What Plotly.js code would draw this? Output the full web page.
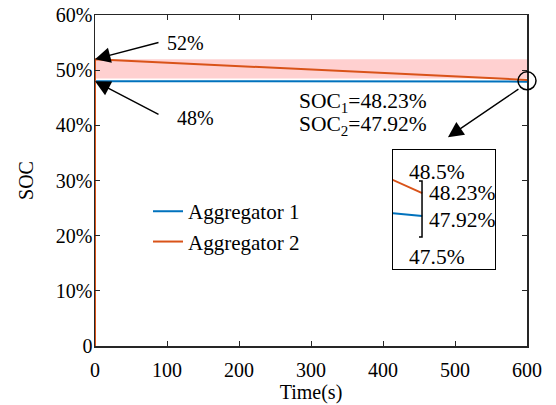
<!DOCTYPE html>
<html>
<head>
<meta charset="utf-8">
<script src="https://cdn.plot.ly/plotly-3.0.1.min.js"></script>
<style>
  html, body { margin: 0; padding: 0; background: #fff; }
  #chart { width: 556px; height: 405px; }
  #chart text { font-family: 'Liberation Serif', 'Times New Roman', serif !important; }
</style>
</head>
<body>
<div id="chart"></div>
<script>
// Time axis (s)
const timeAgg1 = [0, 570, 600];
const timeAgg2 = [0, 0, 600];
// State of charge (%) of each aggregator
const socAgg1 = [48.00, 47.96, 47.92];
const socAgg2 = [0, 52.00, 48.23];
// Initial SOC band between the two aggregators
const bandTime = [0, 600];
const bandUpper = [52, 52];
const bandLower = [48.5, 48.5];
// Axis ticks
const xTicks = [0, 100, 200, 300, 400, 500, 600];
const yTicks = [0, 10, 20, 30, 40, 50, 60];
const yTickText = ['0', '10%', '20%', '30%', '40%', '50%', '60%'];
// Zoom window range on the SOC axis
const zoomTicks = [48.5, 47.5];

const BLUE = '#0072BD';
const ORANGE = '#D95319';
const AXIS = '#262626';
const FONT = 'Liberation Serif';
const FS = 20;
const FS_NOTE = 21.5;

const start1 = socAgg1[0];
const start2 = socAgg2[1];
const end1 = socAgg1[socAgg1.length - 1];
const end2 = socAgg2[socAgg2.length - 1];

const traces = [
  { x: bandTime, y: bandLower, mode: 'lines', line: { width: 0 }, showlegend: false, hoverinfo: 'skip' },
  { x: bandTime, y: bandUpper, mode: 'lines', line: { width: 0 }, fill: 'tonexty',
    fillcolor: 'rgba(255,110,110,0.32)', showlegend: false, hoverinfo: 'skip' },
  { x: timeAgg1, y: socAgg1, mode: 'lines', name: 'Aggregator 1', line: { color: BLUE, width: 2 } },
  { x: timeAgg2, y: socAgg2, mode: 'lines', name: 'Aggregator 2', line: { color: ORANGE, width: 2 } },
  // zoomed view of the final values
  { x: timeAgg1, y: socAgg1, mode: 'lines', xaxis: 'x2', yaxis: 'y2', showlegend: false,
    line: { color: BLUE, width: 2 } },
  { x: timeAgg2, y: socAgg2, mode: 'lines', xaxis: 'x2', yaxis: 'y2', showlegend: false,
    line: { color: ORANGE, width: 2 } }
];

const axisCommon = {
  showgrid: false, zeroline: false, showline: true, linecolor: AXIS, linewidth: 1.5,
  mirror: 'ticks', ticks: 'inside', ticklen: 5, tickcolor: AXIS, tickwidth: 1,
  tickfont: { family: FONT, size: FS, color: '#000' }
};

const yEnd = (end1 + end2) / 2;
const arrowStyle = { showarrow: true, arrowhead: 2, arrowsize: 2.2, arrowwidth: 1.4,
  arrowcolor: '#000', axref: 'pixel', ayref: 'pixel', text: '' };
const txt = (t, x, y, xanchor, size) => ({ text: t, x, y, xref: 'paper', yref: 'paper',
  xanchor: xanchor || 'center', yanchor: 'middle', showarrow: false,
  font: { family: FONT, size: size || FS, color: '#000' } });

const layout = {
  width: 556, height: 405,
  margin: { l: 95, r: 29, t: 15, b: 59 },
  paper_bgcolor: '#fff', plot_bgcolor: '#fff',
  font: { family: FONT, size: FS, color: '#000' },
  xaxis: Object.assign({}, axisCommon, {
    range: [0, 600], tickvals: xTicks, ticklabelstandoff: 5,
    title: { text: 'Time(s)', font: { family: FONT, size: FS, color: '#000' }, standoff: 0 }
  }),
  yaxis: Object.assign({}, axisCommon, {
    range: [0, 60], tickvals: yTicks, ticktext: yTickText, ticklabelstandoff: -3,
    title: { text: 'SOC', font: { family: FONT, size: FS, color: '#000' }, standoff: 17 }
  }),
  xaxis2: { domain: [0.690, 0.926], anchor: 'y2', range: [572, 670], showgrid: false, zeroline: false,
    showline: true, mirror: true, linecolor: '#000', linewidth: 1, showticklabels: false, ticks: '' },
  yaxis2: { domain: [0.2326, 0.592], anchor: 'x2', range: [47.206, 48.81], showgrid: false, zeroline: false,
    showline: true, mirror: true, linecolor: '#000', linewidth: 1, showticklabels: false, ticks: '' },
  legend: {
    x: 0.1227, y: 0.468, xanchor: 'left', yanchor: 'top', bgcolor: 'rgba(0,0,0,0)', traceorder: 'normal',
    font: { family: FONT, size: 21, color: '#000' }, tracegroupgap: 0
  },
  shapes: [
    { type: 'circle', xref: 'paper', yref: 'paper', xsizemode: 'pixel', ysizemode: 'pixel',
      xanchor: 1, yanchor: yEnd / 60, x0: -9, x1: 9, y0: -9, y1: 9,
      line: { color: '#000', width: 1.5 } },
    // bracket marking the gap between the final values
    { type: 'path', xref: 'paper', yref: 'paper',
      path: 'M 0.750 0.4985 L 0.757 0.4985 L 0.757 0.329 L 0.750 0.329',
      line: { color: '#000', width: 1.5 } }
  ],
  annotations: [
    Object.assign({}, arrowStyle, { x: 0, y: start2, xref: 'x', yref: 'y', ax: 65, ay: -17 }),
    Object.assign({}, arrowStyle, { x: 0, y: start1, xref: 'x', yref: 'y', ax: 65, ay: 34 }),
    Object.assign({}, arrowStyle, { x: 0.817, y: 0.631, xref: 'paper', yref: 'paper', ax: 72, ay: -49 }),
    txt(start2 + '%', 0.2106, 0.915),
    txt(start1 + '%', 0.2315, 0.689),
    txt('SOC<sub>1</sub>=' + end2.toFixed(2) + '%', 0.4676, 0.737, 'left', FS_NOTE),
    txt('SOC<sub>2</sub>=' + end1.toFixed(2) + '%', 0.4676, 0.665, 'left', FS_NOTE),
    txt(zoomTicks[0] + '%', 0.722, 0.526, 'left', FS_NOTE),
    txt(zoomTicks[1] + '%', 0.722, 0.269, 'left', FS_NOTE),
    txt(end2.toFixed(2) + '%', 0.7685, 0.462, 'left', FS_NOTE),
    txt(end1.toFixed(2) + '%', 0.7685, 0.381, 'left', FS_NOTE)
  ]
};

Plotly.newPlot('chart', traces, layout, { staticPlot: true, displayModeBar: false });
</script>
</body>
</html>
